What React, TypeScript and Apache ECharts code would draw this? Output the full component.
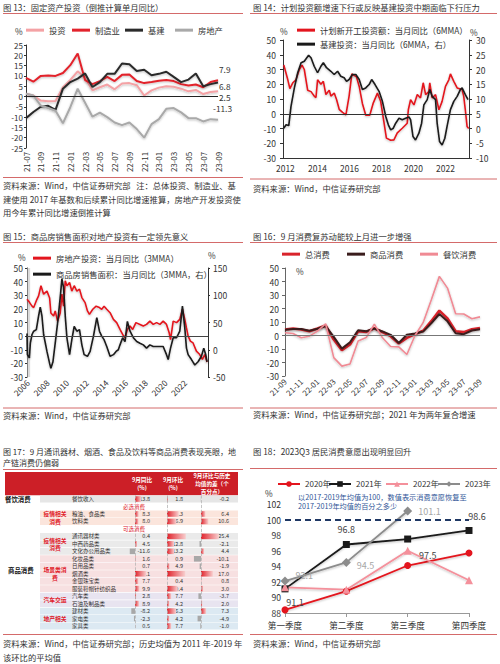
import React, { useEffect, useRef } from "react";
import * as echarts from "echarts";

const F = "'Noto Sans CJK SC', 'Noto Sans', sans-serif";
const TXT = "#333333";
const SEP = "#d46a6a";

// ---------- Figure 13 ----------
const f13Months = ["21-07","21-08","21-09","21-10","21-11","21-12","22-01","22-02","22-03","22-04","22-05","22-06","22-07","22-08","22-09","22-10","22-11","22-12","23-01","23-02","23-03","23-04","23-05","23-06","23-07","23-08","23-09"];
const f13Total = [1.3,0.5,-2,-2.3,-2.2,4.5,8,12.2,9,3,4.5,5.8,3.5,6.3,6.5,5.5,0.5,3,4.3,5,4.7,3.8,2.5,3.2,1.2,2.2,2.5];
const f13Mfg = [9,7.2,10,10.2,10,11.4,15.2,20.9,8,6,7.5,9.5,7.5,10.5,10.7,7.5,6.5,7,7.6,8,7.5,6,5.3,5.8,4.5,7,7.9];
const f13Infra = [-10.5,-7.5,-5,-4.5,-6.5,3.8,7,8.7,11.2,4.6,7,11,11,16,15.7,12.4,13,10.3,11,12,9.5,7,8.2,11.2,5,6,6.8];
const f13RE = [1.3,0.5,-4.4,-5.6,-6.9,-13,-5.2,3.8,-3,-9.8,-7.8,-10,-12.6,-13.9,-12.6,-15.8,-20,-13.4,-11,-6,-5.6,-7.7,-10.5,-10.5,-12.1,-11,-11.3];
const f13EndLabels = ["7.9", "6.8", "2.5", "-11.3"];

// ---------- Figure 14 ----------
const f14Years = [2012, 2014, 2016, 2018, 2020, 2022];
const f14Plan: [number, number][] = [[2011.9,33],[2012.15,23],[2012.28,17],[2012.46,21],[2012.66,23],[2012.87,30],[2013.04,33],[2013.18,30],[2013.39,16],[2013.6,15],[2013.8,12],[2013.91,11],[2014.01,23],[2014.22,20],[2014.37,22],[2014.53,13],[2014.74,16],[2014.84,12],[2015.05,14],[2015.2,9.5],[2015.36,3],[2015.57,1],[2015.78,-0.7],[2015.98,12],[2016.15,27],[2016.44,25],[2016.61,18.5],[2016.81,7],[2017.02,-1],[2017.27,-1],[2017.48,7],[2017.75,14],[2017.95,8.5],[2018.16,-6],[2018.31,-16.5],[2018.58,-18],[2018.78,-17.7],[2018.99,-13],[2019.3,-9.8],[2019.61,-6.4],[2019.68,2.7],[2019.82,9.5],[2020.03,6],[2020.24,13],[2020.44,10.7],[2020.61,21],[2020.76,13],[2020.96,15],[2021.02,21],[2021.17,10.7],[2021.38,13],[2021.59,2.7],[2021.79,8.4],[2022.0,18.6],[2022.21,23],[2022.31,27],[2022.52,22],[2022.73,17.5],[2023.04,16.4],[2023.14,11.8],[2023.24,2.7],[2023.35,-8.6],[2023.45,-10]];
const f14Infra: [number, number][] = [[2011.9,0.1],[2012.04,1.25],[2012.21,1],[2012.35,7.5],[2012.56,13.75],[2012.77,18.9],[2012.98,22.3],[2013.18,22.8],[2013.45,24.8],[2013.6,24],[2013.8,21.1],[2014.01,18.9],[2014.22,21.1],[2014.37,22.3],[2014.57,20.6],[2014.84,19.4],[2015.05,18.3],[2015.26,19.4],[2015.46,17.7],[2015.67,17.2],[2015.82,16],[2015.98,16.6],[2016.19,18.3],[2016.4,18.3],[2016.61,16.6],[2016.81,13.2],[2017.02,13.75],[2017.23,14.9],[2017.39,16.6],[2017.6,14.9],[2017.85,12.6],[2018.06,9.2],[2018.27,4.1],[2018.43,1.25],[2018.58,-0.45],[2018.74,0.1],[2018.89,1.8],[2019.1,3.5],[2019.3,3],[2019.51,3.5],[2019.72,3.9],[2019.82,3],[2019.97,-2.7],[2020.13,-3.9],[2020.34,-1.6],[2020.51,1.8],[2020.65,8],[2020.86,9.8],[2021.02,13.2],[2021.17,10.9],[2021.38,9.8],[2021.48,1.8],[2021.63,-4.4],[2021.79,-5.6],[2021.96,-3.3],[2022.1,0.7],[2022.31,6.4],[2022.52,9.2],[2022.73,10.9],[2022.93,13.2],[2023.04,13.75],[2023.24,11.5],[2023.41,9.8]];

// ---------- Figure 15 ----------
const f15Years = [2006, 2008, 2010, 2012, 2014, 2016, 2018, 2020, 2022];
const f15RE: [number, number][] = [[2005.93,27],[2006.2,24.6],[2006.44,22],[2006.61,21],[2006.88,26],[2007.11,29.5],[2007.35,37],[2007.62,30.8],[2007.96,33],[2008.23,28],[2008.36,17],[2008.64,14.8],[2008.8,18.5],[2009.04,11],[2009.31,17],[2009.48,30.8],[2009.65,22],[2009.82,40.6],[2009.99,37],[2010.26,39.4],[2010.49,33],[2010.73,37],[2011.0,33],[2011.27,34.5],[2011.51,28.3],[2011.84,24.6],[2012.08,18.5],[2012.28,16],[2012.62,19.7],[2012.96,22],[2013.3,21],[2013.53,19.7],[2013.77,22],[2014.04,19.7],[2014.38,17.2],[2014.72,12.3],[2015.05,9.9],[2015.39,4.9],[2015.66,1.2],[2015.9,-1.2],[2016.14,4.9],[2016.41,7.4],[2016.68,4.9],[2017.01,9.9],[2017.42,8.6],[2017.76,7.4],[2018.09,8.6],[2018.43,11],[2018.77,8.6],[2019.11,9.9],[2019.45,8.6],[2019.78,11],[2020.12,8.6],[2020.39,2.5],[2020.53,-2.5],[2020.8,11],[2021.14,9.9],[2021.47,12.3],[2021.74,19.7],[2021.98,12.3],[2022.15,6],[2022.32,0],[2022.55,-3.7],[2022.82,-5],[2023.16,-11],[2023.5,-13.5],[2023.77,-17],[2024.01,-13.5],[2024.24,-19]];
const f15Sales: [number, number][] = [[2005.93,30],[2005.97,-9],[2006.17,-15],[2006.27,12],[2006.44,28],[2006.61,34],[2006.88,37],[2007.11,62],[2007.28,78],[2007.45,62],[2007.62,28],[2007.96,-3],[2008.23,-25],[2008.36,-34],[2008.57,-22],[2008.8,12],[2009.04,49],[2009.31,96],[2009.48,130],[2009.65,114],[2009.82,62],[2009.99,22],[2010.26,-9],[2010.49,18.5],[2010.73,43],[2011.0,34],[2011.27,37],[2011.51,9],[2011.74,-9],[2012.08,-12],[2012.35,-3],[2012.69,25],[2013.03,59],[2013.3,34],[2013.53,25],[2013.77,18.5],[2014.04,6],[2014.38,-12],[2014.72,-9],[2014.99,-3],[2015.22,0],[2015.39,9],[2015.66,22],[2015.9,15],[2016.14,52],[2016.41,34],[2016.75,22],[2017.09,15],[2017.42,12],[2017.76,9],[2018.09,3],[2018.43,9],[2018.77,6],[2019.11,6],[2019.45,6],[2019.78,6],[2020.12,-9],[2020.29,-18],[2020.53,3],[2020.8,22],[2021.14,22],[2021.47,34],[2021.74,80],[2021.98,40],[2022.15,3],[2022.32,-9],[2022.66,-18],[2023.0,-28],[2023.33,-22],[2023.67,-12],[2023.91,3],[2024.11,-9],[2024.24,-22]];

// ---------- Figure 16 ----------
const f16Months = ["21-09","21-10","21-11","21-12","22-01","22-02","22-03","22-04","22-05","22-06","22-07","22-08","22-09","22-10","22-11","22-12","23-01","23-02","23-03","23-04","23-05","23-06","23-07","23-08","23-09"];
const f16Total = [4.5,5.2,4.5,3.2,5.2,7.4,-3.0,-10.9,-6.7,3.1,2.7,5.4,2.5,-0.5,-5.9,-1.8,1,3.5,10.6,18.4,12.7,3.1,2.5,4.6,5.5];
const f16Goods = [4.3,4.8,4.8,3.5,5.0,7.0,-1.0,-9.7,-5.0,3.9,3.2,5.1,3.0,0.5,-5.6,0.5,1.5,2.9,9.1,15.9,10.5,1.7,1.0,3.7,4.6];
const f16Catering = [2,1.5,-1.7,-0.5,3.2,8.7,-16.4,-22.7,-21.1,-4,-1.5,8.4,-1.7,-8.1,-8.4,-14.1,0,9.5,26.3,43.8,35.1,16.1,15.9,12.4,13.8];

// ---------- Figure 17 (table) ----------
const f17Items = ["餐饮收入","","粮油、食品类","饮料类","","通讯器材类","中西药品类","文化办公用品类","化妆品类","日用品类","烟酒类","金银珠宝类","服装鞋帽针纺织品","汽车类","石油及制品类","建材类","家电类","家具类"];
const f17Yoy: (number | null)[] = [13.8,null,8.3,8.0,null,0.4,4.5,-11.6,1.6,0.7,25.1,7.7,9.9,2.8,8.9,-8.2,-2.3,0.5];
const f17Mom: (number | null)[] = [1.8,null,21.3,16.9,null,34.2,12.8,13.2,0.9,4.9,33.1,0.4,19.4,7.7,4.2,16.3,4.2,7.7];
const f17Diff: (number | null)[] = [-0.2,null,6.4,10.6,null,25.4,-2.1,4.4,-10.1,-1.9,17.0,0.8,3.0,-3.7,2.0,7.3,-4.9,-1.0];
const f17Headers = [["9月同比", "(%)"], ["9月环比", "(%)"], ["9月环比与历史", "均值的差（个", "百分点）"]];
const f17Sections = [{ row: 1, text: "必选消费" }, { row: 4, text: "可选消费" }];
const f17Groups = [
  { from: 2, to: 3, lines: ["疫情相关", "消费"], bg: "#fbe5dc" },
  { from: 5, to: 7, lines: ["疫情相关", "消费"], bg: "#eaeaea" },
  { from: 8, to: 12, lines: ["场景类消", "费"], bg: "#f7e0e1" },
  { from: 13, to: 14, lines: ["汽车交运"], bg: "#e8e4f0" },
  { from: 15, to: 17, lines: ["地产相关"], bg: "#dce9f2" },
];

// ---------- Figure 18 ----------
const f18Quarters = ["第一季度", "第二季度", "第三季度", "第四季度"];
const f18Y2020 = [88.4, 90.8, 94.1, 95.7];
const f18Y2021 = [91.1, 96.8, 97.5, 98.6];
const f18Y2022 = [91.3, 91.0, 96.0, 92.2];
const f18Y2023 = [92.1, 94.5, 101.1];

// ---------- helpers ----------
const T = (x: number, y: number, text: string, o: any = {}) => ({
  type: "text", x, y, silent: true, z: o.z ?? 10,
  style: {
    text, fill: o.fill ?? TXT,
    font: `${o.weight ?? "normal"} ${o.size ?? 8.3}px ${F}`,
    align: o.align ?? "left", verticalAlign: "middle",
  },
});
const L = (x1: number, y1: number, x2: number, y2: number, color = SEP, w = 1) => ({
  type: "line", silent: true, z: 5, shape: { x1, y1, x2, y2 }, style: { stroke: color, lineWidth: w },
});
const R = (x: number, y: number, w: number, h: number, fill: string) => ({
  type: "rect", silent: true, z: 0, shape: { x, y, width: w, height: h }, style: { fill },
});

const axLbl = (size = 8.3, extra: any = {}) => ({ fontSize: size, color: TXT, fontFamily: F, ...extra });
const legItem = (name: string, left: number, top: number, extra: any = {}) => ({
  data: [name], left, top, padding: 0, itemWidth: 18, itemHeight: 3, icon: "rect", selectedMode: false,
  textStyle: { fontSize: 8.3, color: TXT, fontFamily: F }, ...extra,
});
const shadow = { shadowColor: "rgba(0,0,0,0.25)", shadowBlur: 2, shadowOffsetY: 1 };
const zeroLine = (color = "#222") => ({
  silent: true, symbol: "none", label: { show: false }, lineStyle: { color, width: 1, type: "solid" }, data: [{ yAxis: 0 }],
});

const tableTop = 495.3;
const rowH = 7.47;
const rowY = (i: number) => tableTop + (i + 0.5) * rowH;
const TF = 5.5; // table font size

function buildOption() {
  const redGrad = new echarts.graphic.LinearGradient(0, 0, 1, 0, [
    { offset: 0, color: "#e0222b" }, { offset: 1, color: "#f8cfcf" },
  ]);
  const barData = (arr: (number | null)[]) =>
    arr.map((v) => (v == null ? "-" : { value: v, itemStyle: { color: v >= 0 ? redGrad : "#a8a8a8" } }));
  const rowsCat = f17Items.map((_, i) => String(i));

  const graphic: any[] = [];
  // titles & separators
  graphic.push(T(3, 7, "图 13：固定资产投资（倒推计算单月同比）"));
  graphic.push(L(3, 13.5, 243, 13.5));
  graphic.push(T(253, 7, "图 14：计划投资额增速下行或反映基建投资中期面临下行压力"));
  graphic.push(L(250, 13.5, 497, 13.5));
  graphic.push(T(3, 236, "图 15：商品房销售面积对地产投资有一定领先意义"));
  graphic.push(L(3, 242.5, 243, 242.5));
  graphic.push(T(253, 236, "图 16：9 月消费复苏动能较上月进一步增强"));
  graphic.push(L(250, 242.5, 497, 242.5));
  graphic.push(T(3, 451, "图 17：9 月通讯器材、烟酒、食品及饮料等商品消费表现亮眼，地", { size: 8 }));
  graphic.push(T(3, 462.5, "产链消费仍偏弱", { size: 8 }));
  graphic.push(L(3, 469.5, 243, 469.5));
  graphic.push(T(253, 451, "图 18：2023Q3 居民消费意愿出现明显回升"));
  graphic.push(L(250, 468.5, 497, 468.5));

  // bottom separators & sources
  graphic.push(L(3, 177.5, 243, 177.5));
  graphic.push(T(3, 185, "资料来源：Wind，中信证券研究部   注：总体投资、制造业、基"));
  graphic.push(T(3, 199, "建使用 2017 年基数和后续累计同比增速推算，房地产开发投资使"));
  graphic.push(T(3, 212, "用今年累计同比增速倒推计算"));
  graphic.push(L(250, 179, 497, 179));
  graphic.push(T(253, 188, "资料来源：Wind，中信证券研究部"));
  graphic.push(L(3, 408, 243, 408));
  graphic.push(T(3, 415, "资料来源：Wind，中信证券研究部"));
  graphic.push(L(250, 408, 497, 408));
  graphic.push(T(253, 414, "资料来源：Wind，中信证券研究部；2021 年为两年复合增速"));
  graphic.push(L(3, 634.5, 243, 634.5));
  graphic.push(T(3, 643, "资料来源：Wind，中信证券研究部；历史均值为 2011 年-2019 年"));
  graphic.push(T(3, 657, "该环比的平均值"));
  graphic.push(L(250, 634.5, 497, 634.5));
  graphic.push(T(253, 643, "资料来源：Wind，中信证券研究部"));

  // unit marks
  graphic.push(T(15, 31, "%"));
  graphic.push(T(280, 31, "%"));
  graphic.push(T(470, 32, "%"));
  graphic.push(T(18, 257, "%"));
  graphic.push(T(208, 255, "%"));
  graphic.push(T(296, 271, "%"));
  graphic.push(T(265, 493, "%"));

  // fig13 end labels
  graphic.push(T(219, 69, f13EndLabels[0]));
  graphic.push(T(219, 86, f13EndLabels[1]));
  graphic.push(T(219, 96.5, f13EndLabels[2]));
  graphic.push(T(213, 108, f13EndLabels[3]));

  // fig18 note
  graphic.push(T(298, 497, "以2017-2019年均值为100，数值表示消费意愿恢复至", { size: 7.2, fill: "#2f5597" }));
  graphic.push(T(298, 506, "2017-2019年均值的百分之多少", { size: 7.2, fill: "#2f5597" }));

  // ---- table ----
  graphic.push(R(5, 472, 233, 23.3, "#cc1f27"));
  const hdrX = [142, 173, 212];
  f17Headers.forEach((lines, i) => {
    const step = lines.length > 2 ? 7.7 : 8;
    const y0 = 483.8 - ((lines.length - 1) * step) / 2;
    lines.forEach((ln, k) =>
      graphic.push(T(hdrX[i], y0 + k * step, ln, { size: 5.6, fill: "#ffffff", align: "center", weight: "bold" }))
    );
  });
  graphic.push(R(40, tableTop + 0.3, 198, rowH - 0.6, "#e6e6e6"));
  f17Groups.forEach((g) => {
    for (let r = g.from; r <= g.to; r++) graphic.push(R(40, tableTop + r * rowH + 0.3, 198, rowH - 0.6, g.bg));
    const cy = (rowY(g.from) + rowY(g.to)) / 2;
    const step = 7.6;
    const y0 = cy - ((g.lines.length - 1) * step) / 2;
    g.lines.forEach((ln, k) =>
      graphic.push(T(55, y0 + k * step, ln, { size: 5.8, fill: "#e0202a", align: "center", weight: "bold" }))
    );
  });
  f17Sections.forEach((s) => graphic.push(T(134, rowY(s.row), s.text, { size: TF, fill: "#e0202a", align: "center" })));
  graphic.push(T(5, rowY(0), "餐饮消费", { size: 6.4, weight: "bold", fill: "#111" }));
  graphic.push(T(8, (rowY(2) + rowY(17)) / 2, "商品消费", { size: 6.4, weight: "bold", fill: "#111" }));
  f17Items.forEach((name, i) => {
    if (!name) return;
    graphic.push(T(72, rowY(i), name, { size: TF, z: 1 }));
    const cols = [f17Yoy[i], f17Mom[i], f17Diff[i]];
    const rx = [150, 183, 229];
    cols.forEach((v, c) => {
      if (v != null) graphic.push(T(rx[c], rowY(i), v.toFixed(1), { size: TF, align: "right", z: 1 }));
    });
  });

  const bl = (yAxisIndex: number, xAxisIndex: number, arr: (number | null)[]) => ({
    type: "bar", xAxisIndex, yAxisIndex, data: barData(arr), barWidth: 5.6, silent: true, z: 3,
    markLine: {
      silent: true, symbol: "none", label: { show: false },
      lineStyle: { color: "#b5b5b5", width: 0.8, type: "dashed" }, data: [{ xAxis: 0 }],
    },
  });

  const legF18 = (name: string, left: number) => ({
    ...legItem(name, left, 480), icon: undefined, itemWidth: 22, itemHeight: 7,
    textStyle: { fontSize: 8, color: TXT, fontFamily: F },
  });

  const option: any = {
    animation: false,
    textStyle: { fontFamily: F },
    grid: [
      { left: 26, top: 45, width: 192, height: 103 },
      { left: 283, top: 40, width: 186, height: 118 },
      { left: 27, top: 268, width: 181, height: 109 },
      { left: 285, top: 268, width: 195, height: 108 },
      { left: 123.75, top: tableTop, width: 33.75, height: 18 * rowH },
      { left: 161.5, top: tableTop, width: 27.5, height: 18 * rowH },
      { left: 190.5, top: tableTop, width: 31.5, height: 18 * rowH },
      { left: 285, top: 504, width: 184, height: 109 },
    ].map((g) => ({ ...g, containLabel: false, outerBoundsMode: "none" })),
    legend: [
      legItem("投资", 26, 26),
      legItem("制造业", 72, 26),
      legItem("基建", 125, 26),
      legItem("房地产", 175, 26),
      legItem("计划新开工投资额：当月同比（6MMA）", 297, 26),
      legItem("基建投资：当月同比（6MMA，右）", 297, 40),
      legItem("房地产投资：当月同比（3MMA）", 33, 254),
      legItem("商品房销售面积：当月同比（3MMA，右）", 33, 270),
      legItem("总消费", 282, 250),
      legItem("商品消费", 347, 250),
      legItem("餐饮消费", 420, 250),
      legF18("2020年", 277),
      legF18("2021年", 328),
      legF18("2022年", 385),
      legF18("2023年", 437),
    ],
    xAxis: [
      {
        type: "category", gridIndex: 0, data: f13Months, boundaryGap: false,
        axisLine: { show: false, onZero: false }, axisTick: { show: false },
        axisLabel: axLbl(7.8, { interval: 1, rotate: 90, margin: 4 }),
      },
      {
        type: "value", gridIndex: 1, min: 2011.85, max: 2023.47, splitLine: { show: false },
        axisLine: { show: true, onZero: false, lineStyle: { color: "#333" } }, axisTick: { show: false },
        axisLabel: axLbl(8.5, { customValues: f14Years, margin: 6, formatter: (v: number) => String(Math.round(v)) }),
      },
      {
        type: "value", gridIndex: 2, min: 2005.93, max: 2024.34, splitLine: { show: false },
        axisLine: { show: false, onZero: false }, axisTick: { show: false },
        axisLabel: axLbl(8.3, { customValues: f15Years, rotate: 45, margin: 4, formatter: (v: number) => String(Math.round(v)) }),
      },
      {
        type: "category", gridIndex: 3, data: f16Months, boundaryGap: false,
        axisLine: { show: false, onZero: false }, axisTick: { show: false },
        axisLabel: axLbl(7.8, { interval: 1, rotate: 45, margin: 4 }),
      },
      { type: "value", gridIndex: 4, min: -25, max: 50, show: false },
      { type: "value", gridIndex: 5, min: -10, max: 40, show: false },
      { type: "value", gridIndex: 6, min: -15, max: 30, show: false },
      {
        type: "category", gridIndex: 7, data: f18Quarters, boundaryGap: false,
        axisLine: { show: true, onZero: false, lineStyle: { color: "#999" } },
        axisTick: { show: true, length: 4, lineStyle: { color: "#999" } },
        axisLabel: axLbl(8.6, { margin: 8 }),
      },
    ],
    yAxis: [
      {
        type: "value", gridIndex: 0, min: -25, max: 25, interval: 5, splitLine: { show: false },
        axisLine: { show: true, lineStyle: { color: "#333" } }, axisTick: { show: true, length: 2, lineStyle: { color: "#333" } },
        axisLabel: axLbl(8, { margin: 3 }),
      },
      {
        type: "value", gridIndex: 1, min: -30, max: 50, interval: 10, splitLine: { show: false },
        axisLine: { show: true, lineStyle: { color: "#333" } }, axisTick: { show: true, length: 3, lineStyle: { color: "#333" } },
        axisLabel: axLbl(8.5, { margin: 7 }),
      },
      {
        type: "value", gridIndex: 1, position: "right", min: -10, max: 30, interval: 5, splitLine: { show: false },
        axisLine: { show: true, lineStyle: { color: "#333" } }, axisTick: { show: true, length: 3, lineStyle: { color: "#333" } },
        axisLabel: axLbl(8.5, { margin: 7 }),
      },
      {
        type: "value", gridIndex: 2, min: -30, max: 50, interval: 10, splitLine: { show: false },
        axisLine: { show: true, lineStyle: { color: "#333" } }, axisTick: { show: true, length: 2, lineStyle: { color: "#333" } },
        axisLabel: axLbl(8.5, { margin: 4 }),
      },
      {
        type: "value", gridIndex: 2, position: "right", min: -50, max: 150, interval: 50, splitLine: { show: false },
        axisLine: { show: true, lineStyle: { color: "#333" } }, axisTick: { show: true, length: 2, lineStyle: { color: "#333" } },
        axisLabel: axLbl(8.5, { margin: 5 }),
      },
      {
        type: "value", gridIndex: 3, min: -30, max: 50, interval: 10, splitLine: { show: false },
        axisLine: { show: true, lineStyle: { color: "#666" } }, axisTick: { show: true, length: 3, lineStyle: { color: "#666" } },
        axisLabel: axLbl(8.5, { margin: 6 }),
      },
      { type: "category", gridIndex: 4, data: rowsCat, inverse: true, show: false },
      { type: "category", gridIndex: 5, data: rowsCat, inverse: true, show: false },
      { type: "category", gridIndex: 6, data: rowsCat, inverse: true, show: false },
      {
        type: "value", gridIndex: 7, min: 88, max: 102, interval: 2, splitLine: { show: false },
        axisLine: { show: false }, axisTick: { show: false },
        axisLabel: axLbl(8.6, { margin: 4 }),
      },
    ],
    series: [
      // fig13
      { type: "line", name: "投资", xAxisIndex: 0, yAxisIndex: 0, data: f13Total, symbol: "none",
        lineStyle: { color: "#f4a2a5", width: 2, ...shadow }, itemStyle: { color: "#f4a2a5" }, markLine: zeroLine() },
      { type: "line", name: "制造业", xAxisIndex: 0, yAxisIndex: 0, data: f13Mfg, symbol: "none",
        lineStyle: { color: "#e2232c", width: 2, ...shadow }, itemStyle: { color: "#e2232c" } },
      { type: "line", name: "基建", xAxisIndex: 0, yAxisIndex: 0, data: f13Infra, symbol: "none",
        lineStyle: { color: "#2b2b2b", width: 2, ...shadow }, itemStyle: { color: "#2b2b2b" } },
      { type: "line", name: "房地产", xAxisIndex: 0, yAxisIndex: 0, data: f13RE, symbol: "none",
        lineStyle: { color: "#a9a9a9", width: 2, ...shadow }, itemStyle: { color: "#a9a9a9" } },
      // fig14
      { type: "line", name: "计划新开工投资额：当月同比（6MMA）", xAxisIndex: 1, yAxisIndex: 1, data: f14Plan, symbol: "none",
        lineStyle: { color: "#e3151e", width: 1.6, ...shadow }, itemStyle: { color: "#e3151e" }, markLine: zeroLine("#333") },
      { type: "line", name: "基建投资：当月同比（6MMA，右）", xAxisIndex: 1, yAxisIndex: 2, data: f14Infra, symbol: "none",
        lineStyle: { color: "#1a1a1a", width: 1.6, ...shadow }, itemStyle: { color: "#1a1a1a" } },
      // fig15
      { type: "line", name: "房地产投资：当月同比（3MMA）", xAxisIndex: 2, yAxisIndex: 3, data: f15RE, symbol: "none",
        lineStyle: { color: "#e3151e", width: 1.6, ...shadow }, itemStyle: { color: "#e3151e" },
        markLine: zeroLine("#444"),
        markArea: { silent: true, itemStyle: { color: "rgba(190,190,190,0.55)" }, data: [[{ xAxis: 2005.93 }, { xAxis: 2006.25 }]] } },
      { type: "line", name: "商品房销售面积：当月同比（3MMA，右）", xAxisIndex: 2, yAxisIndex: 4, data: f15Sales, symbol: "none",
        lineStyle: { color: "#1a1a1a", width: 1.6, ...shadow }, itemStyle: { color: "#1a1a1a" } },
      // fig16
      { type: "line", name: "总消费", xAxisIndex: 3, yAxisIndex: 5, data: f16Total, symbol: "none",
        lineStyle: { color: "#d9232b", width: 2.6, ...shadow }, itemStyle: { color: "#d9232b" }, markLine: zeroLine("#777") },
      { type: "line", name: "商品消费", xAxisIndex: 3, yAxisIndex: 5, data: f16Goods, symbol: "none",
        lineStyle: { color: "#3a1d1d", width: 2, ...shadow }, itemStyle: { color: "#3a1d1d" } },
      { type: "line", name: "餐饮消费", xAxisIndex: 3, yAxisIndex: 5, data: f16Catering, symbol: "none",
        lineStyle: { color: "#f08a94", width: 1.6, ...shadow }, itemStyle: { color: "#f08a94" } },
      // fig17 bars
      bl(6, 4, f17Yoy),
      bl(7, 5, f17Mom),
      bl(8, 6, f17Diff),
      // fig18
      { type: "line", name: "2020年", xAxisIndex: 7, yAxisIndex: 9, data: f18Y2020, symbol: "circle", symbolSize: 7,
        lineStyle: { color: "#e3151e", width: 1.8, ...shadow }, itemStyle: { color: "#e3151e" },
        markLine: { silent: true, symbol: "none", label: { show: false }, lineStyle: { color: "#1f3864", width: 2, type: [6, 4] }, data: [{ yAxis: 100 }] } },
      { type: "line", name: "2021年", xAxisIndex: 7, yAxisIndex: 9, symbol: "rect", symbolSize: 7,
        lineStyle: { color: "#1a1a1a", width: 1.8, ...shadow }, itemStyle: { color: "#1a1a1a" },
        label: { show: true, fontSize: 9, color: "#444", fontFamily: F },
        data: [
          { value: f18Y2021[0], label: { position: "bottom", offset: [10, 1] } },
          { value: f18Y2021[1], label: { position: "top", offset: [0, -2] } },
          { value: f18Y2021[2], label: { position: "bottom", offset: [20, 3] } },
          { value: f18Y2021[3], label: { position: "top", offset: [8, -1] } },
        ] },
      { type: "line", name: "2022年", xAxisIndex: 7, yAxisIndex: 9, data: f18Y2022, symbol: "triangle", symbolSize: 8,
        lineStyle: { color: "#f4909b", width: 1.8, ...shadow }, itemStyle: { color: "#f4909b" } },
      { type: "line", name: "2023年", xAxisIndex: 7, yAxisIndex: 9, symbol: "diamond", symbolSize: 9,
        lineStyle: { color: "#8c8c8c", width: 1.8, ...shadow }, itemStyle: { color: "#8c8c8c" },
        label: { show: true, fontSize: 9, color: "#a6a6a6", fontFamily: F, position: "right", distance: 6 },
        data: [
          { value: f18Y2023[0], label: { offset: [0, -6] } },
          { value: f18Y2023[1], label: { offset: [0, 3] } },
          { value: f18Y2023[2], label: { offset: [0, 0] } },
        ] },
    ],
    graphic: { elements: graphic },
  };
  return option;
}

export default function App() {
  const ref = useRef<HTMLDivElement>(null);
  useEffect(() => {
    if (!ref.current) return;
    const chart = echarts.init(ref.current, null, { renderer: "svg" });
    chart.setOption(buildOption());
    return () => chart.dispose();
  }, []);
  return (
    <div
      ref={ref}
      style={{ position: "absolute", left: 0, top: 0, width: 500, height: 664, background: "#ffffff" }}
    />
  );
}
